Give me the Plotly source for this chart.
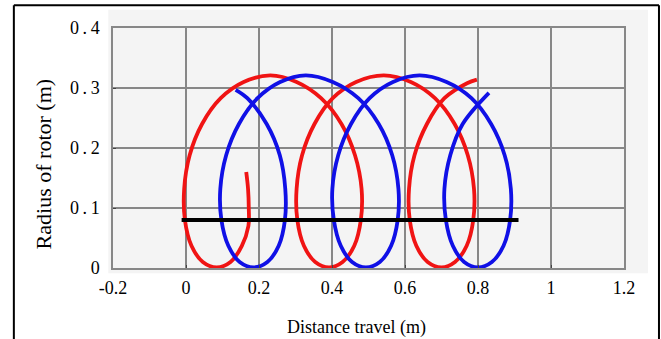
import plotly.graph_objects as go

# ---- data ----
red_x = [0.165, 0.170, 0.172, 0.171, 0.153, 0.122, 0.084, 0.046, 0.015, -0.003, -0.005, 0.010,
         0.044, 0.095, 0.158, 0.231, 0.303, 0.370, 0.426, 0.463, 0.481, 0.479, 0.461, 0.429,
         0.392, 0.354, 0.323, 0.305, 0.303, 0.318, 0.352, 0.402, 0.466, 0.542, 0.616, 0.682,
         0.736, 0.772, 0.789, 0.787, 0.769, 0.737, 0.700, 0.662, 0.631, 0.613, 0.611, 0.626,
         0.660, 0.708, 0.770, 0.797]
red_y = [0.160, 0.132, 0.100, 0.070, 0.037, 0.010, 0.001, 0.010, 0.037, 0.080, 0.132, 0.188,
         0.240, 0.283, 0.310, 0.321, 0.310, 0.283, 0.240, 0.188, 0.132, 0.080, 0.037, 0.010,
         0.001, 0.010, 0.037, 0.080, 0.132, 0.188, 0.240, 0.283, 0.310, 0.321, 0.310, 0.283,
         0.240, 0.188, 0.132, 0.080, 0.037, 0.010, 0.001, 0.010, 0.037, 0.080, 0.132, 0.188,
         0.240, 0.283, 0.308, 0.314]

blue_x = [0.136, 0.168, 0.221, 0.257, 0.272, 0.271, 0.254, 0.223, 0.185, 0.147, 0.116,
          0.097, 0.094, 0.110, 0.145, 0.196, 0.258, 0.328, 0.402, 0.472, 0.528, 0.565, 0.582,
          0.580, 0.562, 0.531, 0.493, 0.455, 0.424, 0.405, 0.401, 0.417, 0.452, 0.503, 0.567,
          0.640, 0.714, 0.782, 0.836, 0.873, 0.890, 0.888, 0.870, 0.838, 0.800, 0.762, 0.731,
          0.712, 0.708, 0.724, 0.758, 0.830]
blue_y = [0.297, 0.283, 0.240, 0.188, 0.132, 0.080, 0.037, 0.010, 0.001, 0.010, 0.037,
          0.080, 0.132, 0.188, 0.240, 0.283, 0.310, 0.321, 0.310, 0.283, 0.240, 0.188, 0.132,
          0.080, 0.037, 0.010, 0.001, 0.010, 0.037, 0.080, 0.132, 0.188, 0.240, 0.283, 0.310,
          0.321, 0.310, 0.283, 0.240, 0.188, 0.132, 0.080, 0.037, 0.010, 0.001, 0.010, 0.037,
          0.080, 0.132, 0.188, 0.240, 0.292]

black_x = [-0.012, 0.911]
black_y = [0.080, 0.080]

x_ticks = [-0.2, 0, 0.2, 0.4, 0.6, 0.8, 1, 1.2]
x_ticktext = ["-0.2", "0", "0.2", "0.4", "0.6", "0.8", "1", "1.2"]
y_ticks = [0, 0.1, 0.2, 0.3, 0.4]
y_ticktext = ["0", "0\u2009.\u20091", "0\u2009.\u20092", "0\u2009.\u20093", "0\u2009.\u20094"]

x_title = "Distance travel (m)"
y_title = "Radius of rotor (m)"

# ---- figure ----
W, H = 661, 339
L, R, T, B = 112.7, 37.0, 28.3, 71.3
pw, ph = W - L - R, H - T - B


def px(xp):
    return (xp - L) / pw


def py(yp):
    return (H - B - yp) / ph


fig = go.Figure()
fig.add_trace(go.Scatter(x=red_x, y=red_y, mode="lines",
                         line=dict(color="#f01414", width=3.8, shape="spline", smoothing=1.0),
                         showlegend=False, hoverinfo="skip"))
fig.add_trace(go.Scatter(x=blue_x, y=blue_y, mode="lines",
                         line=dict(color="#1010e6", width=3.8, shape="spline", smoothing=1.0),
                         showlegend=False, hoverinfo="skip"))
fig.add_trace(go.Scatter(x=black_x, y=black_y, mode="lines",
                         line=dict(color="#000000", width=4.2),
                         showlegend=False, hoverinfo="skip"))

font_family = "Liberation Serif, Times New Roman, serif"

fig.update_layout(
    width=W, height=H,
    margin=dict(l=L, r=R, t=T, b=B, pad=0),
    paper_bgcolor="white",
    plot_bgcolor="rgba(0,0,0,0)",
    font=dict(family=font_family, color="#000000"),
    xaxis=dict(range=[-0.2, 1.2], tickvals=x_ticks, ticktext=x_ticktext,
               showgrid=True, gridcolor="#878787", gridwidth=1.5, zeroline=False,
               showline=True, linecolor="#878787", linewidth=1.5, mirror=True,
               ticks="inside", ticklen=3, tickcolor="#444444", tickwidth=1,
               tickfont=dict(size=18, family=font_family), ticklabelstandoff=3),
    yaxis=dict(range=[0, 0.4], tickvals=y_ticks, ticktext=y_ticktext,
               showgrid=True, gridcolor="#878787", gridwidth=1.5, zeroline=False,
               showline=True, linecolor="#878787", linewidth=1.5, mirror=True,
               ticks="inside", ticklen=3, tickcolor="#444444", tickwidth=1,
               tickfont=dict(size=18, family=font_family), ticklabelstandoff=8),
    shapes=[
        # light grey plotting panel
        dict(type="rect", xref="paper", yref="paper", layer="below",
             x0=px(108), x1=px(648), y0=py(273), y1=py(10),
             fillcolor="#f4f4f4", line=dict(width=0)),
        # outer frame (left, top, right)
        dict(type="line", xref="paper", yref="paper", x0=px(13.5), x1=px(13.5),
             y0=py(5.5), y1=py(350), line=dict(color="black", width=2)),
        dict(type="line", xref="paper", yref="paper", x0=px(13.5), x1=px(659),
             y0=py(5.5), y1=py(5.5), line=dict(color="black", width=2)),
        dict(type="line", xref="paper", yref="paper", x0=px(659), x1=px(659),
             y0=py(5.5), y1=py(350), line=dict(color="black", width=2)),
    ],
    annotations=[
        dict(text=x_title, xref="paper", yref="paper", x=px(356), y=py(327),
             xanchor="center", yanchor="middle", showarrow=False,
             font=dict(size=18, family=font_family)),
        dict(text=y_title, xref="paper", yref="paper", x=px(43), y=py(164),
             xanchor="center", yanchor="middle", showarrow=False, textangle=-90,
             font=dict(size=22, family=font_family)),
    ],
)

fig.write_html("out.html", config={"displayModeBar": False},
               post_script="document.body.style.margin='0px';document.body.style.overflow='hidden';")
